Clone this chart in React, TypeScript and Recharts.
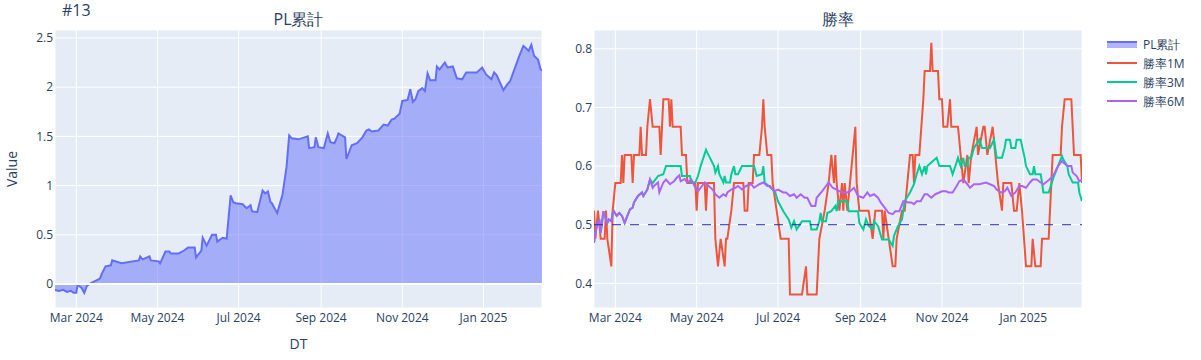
import React from 'react';
import {
  AreaChart, Area, LineChart, Line, XAxis, YAxis, CartesianGrid, ReferenceLine, Legend,
} from 'recharts';

// ---------- data ----------
const plDates = [
  '2024-02-14','2024-02-17','2024-02-20','2024-02-23','2024-02-26','2024-02-28','2024-03-01','2024-03-02','2024-03-05','2024-03-07',
  '2024-03-09','2024-03-12','2024-03-15','2024-03-18','2024-03-19','2024-03-20','2024-03-23','2024-03-27','2024-03-28','2024-04-04',
  '2024-04-17','2024-04-18','2024-04-20','2024-04-25','2024-04-26','2024-05-02','2024-05-03','2024-05-07','2024-05-10','2024-05-11',
  '2024-05-17','2024-05-21','2024-05-24','2024-05-29','2024-05-30','2024-06-03','2024-06-04','2024-06-07','2024-06-11','2024-06-14',
  '2024-06-15','2024-06-19','2024-06-22','2024-06-25','2024-06-27','2024-06-29','2024-07-04','2024-07-07','2024-07-10','2024-07-11',
  '2024-07-15','2024-07-19','2024-07-21','2024-07-23','2024-07-25','2024-07-26','2024-07-30','2024-08-03','2024-08-06','2024-08-08',
  '2024-08-10','2024-08-15','2024-08-22','2024-08-23','2024-08-27','2024-08-28','2024-08-30','2024-09-03','2024-09-06','2024-09-08',
  '2024-09-11','2024-09-13','2024-09-14','2024-09-19','2024-09-20','2024-09-24','2024-09-28','2024-10-02','2024-10-05','2024-10-07',
  '2024-10-09','2024-10-14','2024-10-18','2024-10-21','2024-10-24','2024-10-26','2024-10-30','2024-11-01','2024-11-05','2024-11-07',
  '2024-11-09','2024-11-11','2024-11-13','2024-11-16','2024-11-18','2024-11-20','2024-11-22','2024-11-26','2024-11-27','2024-11-29',
  '2024-12-03','2024-12-05','2024-12-09','2024-12-12','2024-12-16','2024-12-19','2024-12-27','2024-12-31','2025-01-03','2025-01-07',
  '2025-01-09','2025-01-11','2025-01-16','2025-01-19','2025-01-21','2025-01-28','2025-01-31','2025-02-04','2025-02-06','2025-02-08',
  '2025-02-11','2025-02-13','2025-02-14',
];
const plValues = [
  -0.06,-0.07,-0.06,-0.08,-0.07,-0.09,-0.09,-0.01,-0.04,-0.09,
  -0.02,0.01,0.03,0.05,0.06,0.10,0.18,0.19,0.24,0.21,
  0.24,0.28,0.25,0.28,0.24,0.23,0.21,0.33,0.33,0.31,
  0.31,0.34,0.37,0.37,0.27,0.34,0.47,0.39,0.50,0.50,
  0.43,0.47,0.46,0.90,0.83,0.82,0.81,0.77,0.80,0.74,
  0.73,0.95,0.92,0.94,0.83,0.82,0.72,0.91,1.19,1.51,
  1.48,1.47,1.50,1.38,1.39,1.49,1.39,1.38,1.53,1.44,
  1.43,1.49,1.53,1.49,1.27,1.41,1.43,1.49,1.56,1.57,
  1.55,1.56,1.62,1.61,1.67,1.68,1.73,1.86,1.87,1.98,
  1.85,1.88,1.96,1.99,1.96,2.14,2.07,2.07,2.21,2.18,
  2.25,2.20,2.21,2.09,2.08,2.15,2.15,2.20,2.13,2.08,
  2.15,2.12,1.97,2.03,2.06,2.32,2.42,2.37,2.43,2.32,
  2.28,2.18,2.17,
];

const wr1mDates = [
  '2024-02-14','2024-02-15','2024-02-17','2024-02-19','2024-02-22','2024-02-23','2024-02-24','2024-02-27','2024-02-28','2024-03-01',
  '2024-03-05','2024-03-06','2024-03-07','2024-03-08','2024-03-13','2024-03-14','2024-03-15','2024-03-19','2024-03-20','2024-03-21',
  '2024-03-24','2024-03-25','2024-03-27','2024-03-29','2024-04-03','2024-04-04','2024-04-06','2024-04-10','2024-04-11','2024-04-12',
  '2024-04-13','2024-04-19','2024-04-20','2024-04-23','2024-04-24','2024-04-30','2024-05-01','2024-05-02','2024-05-07','2024-05-08',
  '2024-05-09','2024-05-14','2024-05-15','2024-05-17','2024-05-19','2024-05-22','2024-05-23','2024-05-24','2024-05-27','2024-05-29',
  '2024-06-05','2024-06-06','2024-06-08','2024-06-09','2024-06-12','2024-06-13','2024-06-17','2024-06-19','2024-06-20','2024-06-21',
  '2024-06-23','2024-06-26','2024-06-27','2024-06-30','2024-07-03','2024-07-09','2024-07-10','2024-07-19','2024-07-22','2024-07-23',
  '2024-07-30','2024-07-31','2024-08-01','2024-08-05','2024-08-08','2024-08-10','2024-08-12','2024-08-13','2024-08-14','2024-08-16',
  '2024-08-18','2024-08-19','2024-08-20','2024-08-22','2024-08-24','2024-08-26','2024-08-28','2024-08-29','2024-08-31','2024-09-07',
  '2024-09-10','2024-09-12','2024-09-17','2024-09-18','2024-09-19','2024-09-25','2024-09-27','2024-09-28','2024-10-02','2024-10-04',
  '2024-10-06','2024-10-08','2024-10-10','2024-10-11','2024-10-12','2024-10-15','2024-10-18','2024-10-19','2024-10-23','2024-10-24',
  '2024-10-25','2024-10-29','2024-10-30','2024-11-01','2024-11-02','2024-11-05','2024-11-07','2024-11-08','2024-11-13','2024-11-15',
  '2024-11-17','2024-11-20','2024-11-21','2024-11-23','2024-11-27','2024-11-28','2024-12-02','2024-12-03','2024-12-05','2024-12-09',
  '2024-12-11','2024-12-13','2024-12-16','2024-12-17','2024-12-23','2024-12-25','2024-12-27','2024-12-29','2024-12-31','2025-01-03',
  '2025-01-07','2025-01-08','2025-01-10','2025-01-14','2025-01-15','2025-01-20','2025-01-22','2025-01-23','2025-01-29','2025-01-30',
  '2025-02-01','2025-02-06','2025-02-07','2025-02-08','2025-02-13','2025-02-14',
];
const wr1mValues = [
  0.524,0.476,0.524,0.476,0.476,0.524,0.476,0.429,0.524,0.571,
  0.571,0.619,0.571,0.619,0.619,0.571,0.619,0.619,0.667,0.619,
  0.619,0.667,0.714,0.667,0.667,0.619,0.714,0.714,0.667,0.714,
  0.667,0.667,0.619,0.619,0.571,0.571,0.524,0.571,0.571,0.524,
  0.571,0.571,0.476,0.429,0.476,0.429,0.476,0.476,0.524,0.571,
  0.571,0.524,0.524,0.571,0.571,0.619,0.619,0.667,0.714,0.667,
  0.619,0.619,0.571,0.524,0.476,0.476,0.381,0.381,0.429,0.381,
  0.381,0.429,0.476,0.524,0.571,0.619,0.571,0.619,0.571,0.524,
  0.571,0.524,0.571,0.524,0.571,0.619,0.667,0.571,0.524,0.524,
  0.476,0.524,0.524,0.476,0.524,0.429,0.429,0.476,0.524,0.524,
  0.571,0.619,0.619,0.571,0.619,0.619,0.714,0.762,0.762,0.810,
  0.762,0.762,0.714,0.714,0.667,0.667,0.714,0.667,0.667,0.619,
  0.571,0.619,0.571,0.619,0.667,0.619,0.667,0.667,0.619,0.667,
  0.619,0.571,0.524,0.571,0.571,0.524,0.524,0.571,0.524,0.429,
  0.429,0.476,0.429,0.429,0.476,0.476,0.571,0.619,0.619,0.667,
  0.714,0.714,0.667,0.619,0.619,0.571,
];

const wr3mDates = [
  '2024-02-14','2024-02-15','2024-02-16','2024-02-18','2024-02-19','2024-02-20','2024-02-21','2024-02-23','2024-02-24','2024-02-25',
  '2024-02-27','2024-02-28','2024-02-29','2024-03-02','2024-03-04','2024-03-06','2024-03-08','2024-03-10','2024-03-12','2024-03-14',
  '2024-03-15','2024-03-18','2024-03-21','2024-03-22','2024-03-25','2024-03-27','2024-03-29','2024-04-02','2024-04-06','2024-04-08',
  '2024-04-19','2024-04-20','2024-04-26','2024-04-27','2024-04-30','2024-05-02','2024-05-04','2024-05-06','2024-05-08','2024-05-09',
  '2024-05-11','2024-05-14','2024-05-15','2024-05-17','2024-05-18','2024-05-21','2024-05-22','2024-05-23','2024-05-26','2024-05-27',
  '2024-05-29','2024-05-30','2024-06-01','2024-06-04','2024-06-13','2024-06-15','2024-06-19','2024-06-20','2024-06-21','2024-06-27',
  '2024-06-29','2024-07-01','2024-07-05','2024-07-09','2024-07-11','2024-07-13','2024-07-15','2024-07-19','2024-07-25','2024-07-26',
  '2024-07-30','2024-08-01','2024-08-02','2024-08-03','2024-08-06','2024-08-07','2024-08-10','2024-08-13','2024-08-14','2024-08-15',
  '2024-08-16','2024-08-18','2024-08-22','2024-08-23','2024-08-30','2024-08-31','2024-09-03','2024-09-05','2024-09-07','2024-09-10',
  '2024-09-11','2024-09-14','2024-09-17','2024-09-22','2024-09-25','2024-09-26','2024-09-29','2024-10-02','2024-10-04','2024-10-08',
  '2024-10-11','2024-10-13','2024-10-15','2024-10-17','2024-10-19','2024-10-20','2024-10-21','2024-10-28','2024-10-30','2024-11-07',
  '2024-11-09','2024-11-11','2024-11-13','2024-11-15','2024-11-17','2024-11-18','2024-11-20','2024-11-21','2024-11-23','2024-11-25',
  '2024-11-29','2024-12-01','2024-12-07','2024-12-10','2024-12-12','2024-12-16','2024-12-18','2024-12-19','2024-12-22','2024-12-23',
  '2024-12-26','2024-12-27','2024-12-30','2025-01-02','2025-01-03','2025-01-06','2025-01-08','2025-01-09','2025-01-10','2025-01-14',
  '2025-01-15','2025-01-16','2025-01-20','2025-01-22','2025-01-24','2025-01-27','2025-01-30','2025-01-31','2025-02-03','2025-02-04',
  '2025-02-07','2025-02-11','2025-02-12','2025-02-14',
];
const wr3mValues = [
  0.469,0.486,0.498,0.509,0.486,0.503,0.523,0.509,0.503,0.509,
  0.506,0.520,0.523,0.515,0.520,0.515,0.503,0.515,0.526,0.529,
  0.538,0.549,0.555,0.549,0.560,0.577,0.571,0.583,0.586,0.600,
  0.600,0.583,0.583,0.572,0.572,0.583,0.600,0.614,0.628,0.623,
  0.614,0.600,0.589,0.600,0.586,0.572,0.583,0.572,0.572,0.586,
  0.600,0.586,0.586,0.600,0.600,0.583,0.586,0.600,0.572,0.560,
  0.555,0.540,0.523,0.509,0.495,0.506,0.492,0.506,0.506,0.492,
  0.492,0.506,0.520,0.506,0.506,0.520,0.523,0.532,0.523,0.540,
  0.538,0.540,0.540,0.523,0.523,0.503,0.492,0.509,0.498,0.492,
  0.506,0.498,0.475,0.475,0.464,0.481,0.498,0.509,0.540,0.555,
  0.569,0.586,0.600,0.586,0.600,0.586,0.600,0.614,0.600,0.600,
  0.586,0.600,0.614,0.600,0.614,0.600,0.600,0.614,0.614,0.631,
  0.645,0.631,0.631,0.645,0.614,0.614,0.631,0.645,0.645,0.631,
  0.631,0.645,0.645,0.614,0.600,0.586,0.586,0.600,0.586,0.586,
  0.572,0.555,0.555,0.569,0.583,0.600,0.617,0.611,0.600,0.586,
  0.572,0.572,0.555,0.540,
];

const wr6mDates = [
  '2024-02-14','2024-02-15','2024-02-16','2024-02-18','2024-02-19','2024-02-20','2024-02-21','2024-02-23','2024-02-24','2024-02-25',
  '2024-02-27','2024-02-28','2024-02-29','2024-03-02','2024-03-04','2024-03-06','2024-03-08','2024-03-10','2024-03-12','2024-03-14',
  '2024-03-15','2024-03-18','2024-03-21','2024-03-22','2024-03-25','2024-03-27','2024-03-29','2024-03-30','2024-04-02','2024-04-03',
  '2024-04-06','2024-04-08','2024-04-11','2024-04-14','2024-04-16','2024-04-18','2024-04-19','2024-04-22','2024-04-24','2024-04-27',
  '2024-04-30','2024-05-02','2024-05-05','2024-05-07','2024-05-10','2024-05-13','2024-05-15','2024-05-18','2024-05-21','2024-05-23',
  '2024-05-24','2024-05-27','2024-05-30','2024-06-01','2024-06-04','2024-06-07','2024-06-11','2024-06-13','2024-06-17','2024-06-20',
  '2024-06-23','2024-06-25','2024-06-28','2024-07-01','2024-07-05','2024-07-07','2024-07-10','2024-07-13','2024-07-15','2024-07-18',
  '2024-07-21','2024-07-23','2024-07-26','2024-07-29','2024-07-30','2024-08-03','2024-08-06','2024-08-08','2024-08-11','2024-08-14',
  '2024-08-16','2024-08-19','2024-08-22','2024-08-24','2024-08-27','2024-08-30','2024-09-03','2024-09-06','2024-09-08','2024-09-11',
  '2024-09-14','2024-09-16','2024-09-19','2024-09-22','2024-09-25','2024-09-27','2024-09-30','2024-10-03','2024-10-07','2024-10-09',
  '2024-10-11','2024-10-13','2024-10-16','2024-10-19','2024-10-21','2024-10-24','2024-10-27','2024-10-30','2024-11-01','2024-11-04',
  '2024-11-06','2024-11-09','2024-11-12','2024-11-14','2024-11-17','2024-11-20','2024-11-22','2024-11-25','2024-11-29','2024-12-04',
  '2024-12-07','2024-12-10','2024-12-12','2024-12-15','2024-12-18','2024-12-20','2024-12-23','2024-12-26','2024-12-29','2024-12-31',
  '2025-01-03','2025-01-06','2025-01-08','2025-01-11','2025-01-14','2025-01-16','2025-01-19','2025-01-22','2025-01-24','2025-01-27',
  '2025-01-30','2025-01-31','2025-02-03','2025-02-06','2025-02-07','2025-02-10','2025-02-12','2025-02-14',
];
const wr6mValues = [
  0.469,0.486,0.498,0.509,0.486,0.503,0.523,0.509,0.503,0.509,
  0.506,0.520,0.523,0.515,0.520,0.515,0.503,0.515,0.526,0.529,
  0.538,0.549,0.555,0.549,0.560,0.577,0.563,0.566,0.572,0.555,
  0.572,0.577,0.569,0.574,0.580,0.584,0.574,0.578,0.572,0.577,
  0.563,0.557,0.566,0.572,0.566,0.560,0.552,0.546,0.552,0.549,
  0.555,0.560,0.563,0.566,0.560,0.566,0.569,0.563,0.569,0.572,
  0.566,0.566,0.557,0.560,0.555,0.555,0.549,0.552,0.546,0.552,
  0.546,0.546,0.532,0.532,0.546,0.557,0.566,0.572,0.563,0.560,
  0.557,0.555,0.555,0.557,0.563,0.549,0.546,0.555,0.549,0.552,
  0.546,0.538,0.529,0.520,0.518,0.523,0.523,0.540,0.538,0.538,
  0.535,0.540,0.540,0.552,0.552,0.546,0.552,0.555,0.557,0.557,
  0.555,0.555,0.566,0.574,0.577,0.569,0.563,0.569,0.569,0.572,
  0.569,0.566,0.560,0.555,0.557,0.563,0.549,0.555,0.566,0.566,
  0.563,0.572,0.577,0.577,0.572,0.569,0.574,0.580,0.586,0.600,
  0.609,0.606,0.600,0.600,0.589,0.583,0.574,0.577,
];

const xTickDates = ['2024-03-01','2024-05-01','2024-07-01','2024-09-01','2024-11-01','2025-01-01'];
const plTicks = [0, 0.5, 1, 1.5, 2, 2.5];
const wrTicks = [0.4, 0.5, 0.6, 0.7, 0.8];
const monthNames = ['Jan','Feb','Mar','Apr','May','Jun','Jul','Aug','Sep','Oct','Nov','Dec'];
const seriesNames = ['PL累計', '勝率1M', '勝率3M', '勝率6M'];
const seriesColors = ['#636efa', '#EF553B', '#00cc96', '#ab63fa'];

// ---------- build ----------
const toT = (s: string) => Date.parse(s + 'T00:00:00Z');
const zip = (ds: string[], vs: number[]) => ds.map((d, i) => ({ t: toT(d), v: vs[i] }));
const plData = zip(plDates, plValues);
const r1 = zip(wr1mDates, wr1mValues);
const r3 = zip(wr3mDates, wr3mValues);
const r6 = zip(wr6mDates, wr6mValues);
const xTicks = xTickDates.map(toT);
const xDomain = [toT(plDates[0]), toT(plDates[plDates.length - 1])];
const fmtDate = (t: number) => {
  const d = new Date(t);
  return `${monthNames[d.getUTCMonth()]} ${d.getUTCFullYear()}`;
};

const FONT = '"Open Sans", verdana, arial, sans-serif';
const TXT = '#2a3f5f';
const tickStyle = { fill: TXT, fontSize: 12, fontFamily: FONT };

const LegendBox = () => (
  <svg width={110} height={80} style={{ display: 'block', overflow: 'visible' }}>
    {seriesNames.map((n, i) => {
      const cy = 10 + i * 19;
      return (
        <g key={n}>
          {i === 0 ? (
            <>
              <rect x={0} y={cy - 2} width={30} height={6} fill={seriesColors[0]} fillOpacity={0.5} />
              <line x1={0} x2={30} y1={cy - 2} y2={cy - 2} stroke={seriesColors[0]} strokeWidth={2} />
            </>
          ) : (
            <line x1={0} x2={30} y1={cy} y2={cy} stroke={seriesColors[i]} strokeWidth={2} />
          )}
          <text x={36} y={cy + 4.5} fontSize={12} fill={TXT} fontFamily={FONT}>{n}</text>
        </g>
      );
    })}
  </svg>
);

export default function App() {
  return (
    <div style={{ position: 'absolute', left: 0, top: 0, width: 1201, height: 360, background: '#fff', fontFamily: FONT }}>
      <div style={{ position: 'absolute', left: 0, top: 0 }}>
        <AreaChart width={560} height={360} data={plData} margin={{ top: 30, right: 18, bottom: 22, left: 0 }}>
          <CartesianGrid fill="#E5ECF6" stroke="#ffffff" strokeWidth={1} />
          <XAxis dataKey="t" type="number" domain={xDomain} ticks={xTicks} tickFormatter={fmtDate}
            allowDataOverflow interval={0} axisLine={false} tickLine={false} tickSize={0} tickMargin={5}
            height={30} tick={tickStyle} />
          <YAxis type="number" domain={[-0.244, 2.581]} ticks={plTicks} allowDataOverflow interval={0}
            axisLine={false} tickLine={false} tickSize={0} tickMargin={2} width={55} tick={tickStyle} />
          <ReferenceLine y={0} stroke="#ffffff" strokeWidth={2} />
          <Area dataKey="v" type="linear" baseValue={0} stroke={seriesColors[0]} strokeWidth={2}
            fill={seriesColors[0]} fillOpacity={0.5} dot={false} activeDot={false} isAnimationActive={false} />
        </AreaChart>
      </div>
      <div style={{ position: 'absolute', left: 540, top: 0 }}>
        <LineChart width={661} height={360} margin={{ top: 30, right: 119, bottom: 22, left: 0 }}>
          <CartesianGrid fill="#E5ECF6" stroke="#ffffff" strokeWidth={1} />
          <XAxis dataKey="t" type="number" domain={xDomain} ticks={xTicks} tickFormatter={fmtDate}
            allowDataOverflow interval={0} axisLine={false} tickLine={false} tickSize={0} tickMargin={5}
            height={30} tick={tickStyle} />
          <YAxis type="number" domain={[0.358, 0.832]} ticks={wrTicks} allowDataOverflow interval={0}
            axisLine={false} tickLine={false} tickSize={0} tickMargin={2} width={54} tick={tickStyle} />
          <Line data={r1} dataKey="v" name={seriesNames[1]} type="linear" stroke={seriesColors[1]} strokeWidth={2}
            dot={false} activeDot={false} isAnimationActive={false} />
          <Line data={r3} dataKey="v" name={seriesNames[2]} type="linear" stroke={seriesColors[2]} strokeWidth={2}
            dot={false} activeDot={false} isAnimationActive={false} />
          <Line data={r6} dataKey="v" name={seriesNames[3]} type="linear" stroke={seriesColors[3]} strokeWidth={2}
            dot={false} activeDot={false} isAnimationActive={false} />
          <ReferenceLine y={0.5} stroke="#2b2bb4" strokeWidth={1} strokeDasharray="9 9" />
          <Legend layout="vertical" align="center" verticalAlign="middle" content={() => <LegendBox />}
            wrapperStyle={{ left: 567, top: 34, width: 110, height: 80 }} />
        </LineChart>
      </div>
      <svg width={1201} height={360} style={{ position: 'absolute', left: 0, top: 0, pointerEvents: 'none' }}>
        <text x={62} y={16} fontSize={16} fill={TXT} fontFamily={FONT}>#13</text>
        <text x={298.5} y={25} fontSize={16} fill={TXT} fontFamily={FONT} textAnchor="middle">PL累計</text>
        <text x={838} y={25} fontSize={16} fill={TXT} fontFamily={FONT} textAnchor="middle">勝率</text>
        <text x={0} y={0} fontSize={14} fill={TXT} fontFamily={FONT} textAnchor="middle"
          transform="translate(17,169) rotate(-90)">Value</text>
        <text x={298.5} y={348.5} fontSize={14} fill={TXT} fontFamily={FONT} textAnchor="middle">DT</text>
      </svg>
    </div>
  );
}
